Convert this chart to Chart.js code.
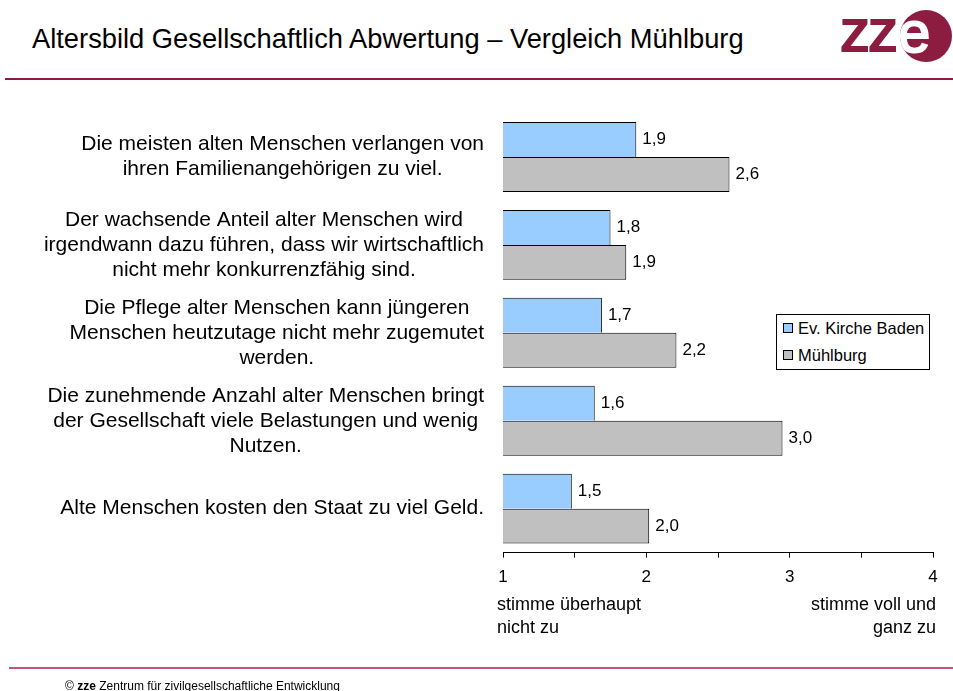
<!DOCTYPE html>
<html>
<head>
<meta charset="utf-8">
<script src="https://cdn.jsdelivr.net/npm/chart.js@4"></script>
<style>
  body { margin: 0; width: 953px; height: 691px; overflow: hidden; background: #fff;
         font-family: "Liberation Sans", Arial, sans-serif; position: relative; }
  #titel { position: absolute; left: 32px; top: 23px; font-size: 27.3px; line-height: 32px; color: #000; white-space: nowrap; }
  #logo { position: absolute; left: 840px; top: 6px; width: 110px; height: 60px; }
  #logo .zz { position: absolute; left: 0; top: -10px; font-size: 60px; color: #8c1d40; letter-spacing: -2px;
              -webkit-text-stroke: 2px #8c1d40; }
  #logo .kreis { position: absolute; left: 60px; top: 4px; width: 52px; height: 52px; border-radius: 50%; background: #8c1d40;
                 color: #fff; font-size: 58px; line-height: 44px; text-indent: -2px; overflow: hidden; -webkit-text-stroke: 2px #fff; }
  .linie { position: absolute; height: 2px; }
  #oben { left: 5px; right: 0; top: 78px; background: #8e1b3f; }
  #unten { left: 9px; right: 0; top: 667px; background: #c0587a; }
  #grafik { position: absolute; left: 0; top: 0; }
  #legende { position: absolute; left: 776px; top: 314px; width: 152px; height: 54px; border: 1px solid #000; background: #fff;
             font-size: 16.5px; }
  #legende div { position: absolute; left: 6px; white-space: nowrap; line-height: 20px; }
  #legende span { display: inline-block; width: 8px; height: 8px; border: 1px solid #000; margin-right: 5px; vertical-align: 1px; }
  #fuss { position: absolute; left: 65px; top: 679px; font-size: 12px; white-space: nowrap; }
</style>
</head>
<body>
<div id="titel">Altersbild Gesellschaftlich Abwertung – Vergleich Mühlburg</div>
<div id="logo"><span class="zz">zz</span><div class="kreis">e</div></div>
<div class="linie" id="oben"></div>
<canvas id="grafik" width="953" height="691"></canvas>
<div id="legende"></div>
<div class="linie" id="unten"></div>
<div id="fuss">© <b>zze</b> Zentrum für zivilgesellschaftliche Entwicklung</div>
<script>
// Aussagen (Kategorien), von oben nach unten
const aussagen = [
  ['Die meisten alten Menschen verlangen von', 'ihren Familienangehörigen zu viel.'],
  ['Der wachsende Anteil alter Menschen wird', 'irgendwann dazu führen, dass wir wirtschaftlich', 'nicht mehr konkurrenzfähig sind.'],
  ['Die Pflege alter Menschen kann jüngeren', 'Menschen heutzutage nicht mehr zugemutet', 'werden.'],
  ['Die zunehmende Anzahl alter Menschen bringt', 'der Gesellschaft viele Belastungen und wenig', 'Nutzen.'],
  ['Alte Menschen kosten den Staat zu viel Geld.']
];
const serien = ['Ev. Kirche Baden', 'Mühlburg'];
const kircheBaden = [1.93, 1.75, 1.69, 1.64, 1.48];
const muehlburg = [2.58, 1.86, 2.21, 2.95, 2.02];
const skalaTicks = [1, 2, 3, 4];
const skalaLinks = ['stimme überhaupt', 'nicht zu'];
const skalaRechts = ['stimme voll und', 'ganz zu'];
const farben = ['#99ccff', '#c0c0c0'];

const schrift = '"Liberation Sans", Arial, sans-serif';

// Legende als Kasten im Diagramm
const leg = document.getElementById('legende');
serien.forEach((s, i) => {
  const d = document.createElement('div');
  d.style.top = (i === 0 ? 3 : 30) + 'px';
  d.innerHTML = `<span style="background:${farben[i]}"></span>${s}`;
  leg.appendChild(d);
});

const beschriftung = {
  id: 'beschriftung',
  afterDatasetsDraw(chart) {
    const ctx = chart.ctx;
    ctx.save();
    ctx.fillStyle = '#000';
    ctx.textBaseline = 'middle';

    // Werte rechts neben den Balken
    ctx.font = '17px ' + schrift;
    ctx.textAlign = 'left';
    chart.data.datasets.forEach((ds, i) => {
      chart.getDatasetMeta(i).data.forEach((bar, j) => {
        ctx.fillText(ds.data[j].toFixed(1).replace('.', ','), bar.x + 6, bar.y);
      });
    });

    // Aussagen links: Block rechtsbündig, Zeilen zentriert
    const ys = chart.scales.y;
    const rand = chart.chartArea.left - 19;
    ctx.font = '21px ' + schrift;
    ctx.textAlign = 'center';
    aussagen.forEach((zeilen, i) => {
      const breite = Math.max(...zeilen.map(z => ctx.measureText(z).width));
      const y0 = ys.getPixelForTick(i) - (zeilen.length - 1) * 25 / 2;
      zeilen.forEach((z, k) => ctx.fillText(z, rand - breite / 2, y0 + k * 25));
    });

    // Enden der Skala
    const xs = chart.scales.x;
    ctx.font = '18px ' + schrift;
    ctx.textAlign = 'left';
    skalaLinks.forEach((z, k) => ctx.fillText(z, xs.getPixelForValue(1) - 6, 605 + k * 23));
    ctx.textAlign = 'right';
    skalaRechts.forEach((z, k) => ctx.fillText(z, xs.getPixelForValue(4) + 3, 605 + k * 23));
    ctx.restore();
  }
};

new Chart(document.getElementById('grafik'), {
  type: 'bar',
  data: {
    labels: aussagen,
    datasets: [
      { label: serien[0], data: kircheBaden, backgroundColor: farben[0], borderColor: '#000',
        borderWidth: { left: 1, top: 1, right: 1, bottom: 0 }, borderSkipped: false },
      { label: serien[1], data: muehlburg, backgroundColor: farben[1], borderColor: '#000',
        borderWidth: 1, borderSkipped: false }
    ]
  },
  options: {
    indexAxis: 'y',
    responsive: false,
    animation: false,
    layout: { padding: { left: 503, right: 20, top: 113, bottom: 93 } },
    datasets: { bar: { barPercentage: 1, categoryPercentage: 0.795 } },
    plugins: { legend: { display: false }, tooltip: { enabled: false } },
    scales: {
      y: { display: false },
      x: {
        min: 1, max: 4,
        grid: { drawOnChartArea: false, tickLength: 5, color: '#000' },
        border: { color: '#000', width: 1 },
        ticks: {
          stepSize: 0.5, padding: 10, color: '#000', autoSkip: false, maxRotation: 0,
          font: { family: schrift, size: 17 },
          callback: v => skalaTicks.includes(v) ? String(v) : ''
        }
      }
    }
  },
  plugins: [beschriftung]
});
</script>
</body>
</html>
